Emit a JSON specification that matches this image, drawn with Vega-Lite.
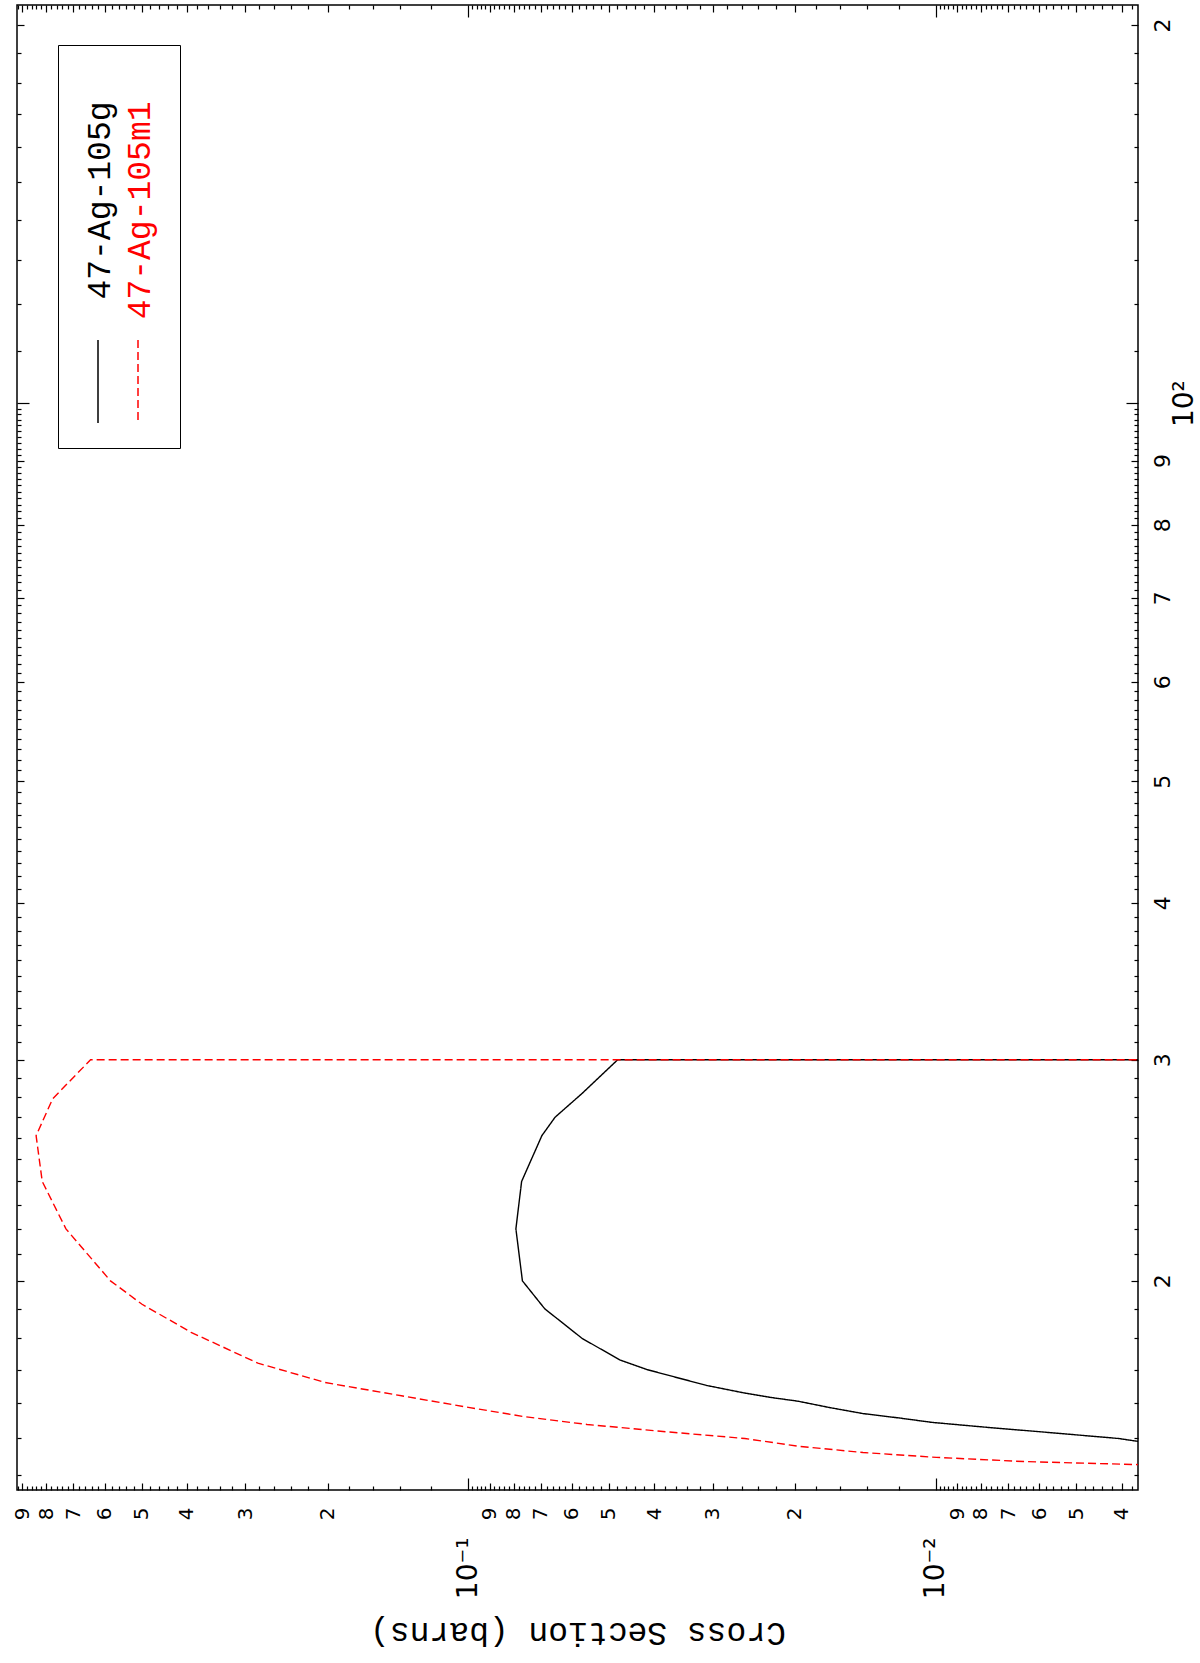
{
  "$schema": "https://vega.github.io/schema/vega-lite/v6.json",
  "autosize": {"type": "none"},
  "width": 1121,
  "height": 1485,
  "padding": {"left": 17, "top": 5, "right": 62, "bottom": 173},
  "background": "white",
  "config": {
    "view": {"stroke": "black", "strokeWidth": 1.5},
    "axis": {"grid": false, "domain": false, "tickColor": "black", "labelColor": "black", "tickWidth": 1.2}
  },
  "title": {
    "text": "Radionuclide Production Cross Section",
    "orient": "left",
    "anchor": "middle",
    "font": "Liberation Mono",
    "fontSize": 33,
    "fontWeight": "normal",
    "baseline": "alphabetic",
    "offset": 12,
    "color": "black"
  },
  "data": {
    "values": [
      {"series": "47-Ag-105g", "i": 0, "E": 14.73, "xs": 0.0030},
      {"series": "47-Ag-105g", "i": 1, "E": 14.98, "xs": 0.00406},
      {"series": "47-Ag-105g", "i": 2, "E": 15.15, "xs": 0.00578},
      {"series": "47-Ag-105g", "i": 3, "E": 15.29, "xs": 0.00777},
      {"series": "47-Ag-105g", "i": 4, "E": 15.43, "xs": 0.0102},
      {"series": "47-Ag-105g", "i": 5, "E": 15.55, "xs": 0.0119},
      {"series": "47-Ag-105g", "i": 6, "E": 15.68, "xs": 0.0143},
      {"series": "47-Ag-105g", "i": 7, "E": 15.85, "xs": 0.0168},
      {"series": "47-Ag-105g", "i": 8, "E": 16.04, "xs": 0.0197},
      {"series": "47-Ag-105g", "i": 9, "E": 16.15, "xs": 0.0225},
      {"series": "47-Ag-105g", "i": 10, "E": 16.29, "xs": 0.0258},
      {"series": "47-Ag-105g", "i": 11, "E": 16.51, "xs": 0.0309},
      {"series": "47-Ag-105g", "i": 12, "E": 16.77, "xs": 0.0362},
      {"series": "47-Ag-105g", "i": 13, "E": 17.0, "xs": 0.0415},
      {"series": "47-Ag-105g", "i": 14, "E": 17.3, "xs": 0.0474},
      {"series": "47-Ag-105g", "i": 15, "E": 18.0, "xs": 0.0571},
      {"series": "47-Ag-105g", "i": 16, "E": 19.0, "xs": 0.0686},
      {"series": "47-Ag-105g", "i": 17, "E": 20.0, "xs": 0.0766},
      {"series": "47-Ag-105g", "i": 18, "E": 22.0, "xs": 0.0791},
      {"series": "47-Ag-105g", "i": 19, "E": 24.0, "xs": 0.0769},
      {"series": "47-Ag-105g", "i": 20, "E": 26.1, "xs": 0.0696},
      {"series": "47-Ag-105g", "i": 21, "E": 27.0, "xs": 0.0652},
      {"series": "47-Ag-105g", "i": 22, "E": 28.2, "xs": 0.0571},
      {"series": "47-Ag-105g", "i": 23, "E": 30.0, "xs": 0.0479},
      {"series": "47-Ag-105g", "i": 24, "E": 30.0, "xs": 0.000001},
      {"series": "47-Ag-105m1", "i": 0, "E": 14.25, "xs": 0.0030},
      {"series": "47-Ag-105m1", "i": 1, "E": 14.36, "xs": 0.00648},
      {"series": "47-Ag-105m1", "i": 2, "E": 14.47, "xs": 0.00996},
      {"series": "47-Ag-105m1", "i": 3, "E": 14.6, "xs": 0.0143},
      {"series": "47-Ag-105m1", "i": 4, "E": 14.77, "xs": 0.0197},
      {"series": "47-Ag-105m1", "i": 5, "E": 14.98, "xs": 0.0256},
      {"series": "47-Ag-105m1", "i": 6, "E": 15.18, "xs": 0.0388},
      {"series": "47-Ag-105m1", "i": 7, "E": 15.37, "xs": 0.0557},
      {"series": "47-Ag-105m1", "i": 8, "E": 15.6, "xs": 0.0765},
      {"series": "47-Ag-105m1", "i": 9, "E": 15.86, "xs": 0.100},
      {"series": "47-Ag-105m1", "i": 10, "E": 16.2, "xs": 0.139},
      {"series": "47-Ag-105m1", "i": 11, "E": 16.6, "xs": 0.2025},
      {"series": "47-Ag-105m1", "i": 12, "E": 17.2, "xs": 0.282},
      {"series": "47-Ag-105m1", "i": 13, "E": 18.2, "xs": 0.392},
      {"series": "47-Ag-105m1", "i": 14, "E": 19.16, "xs": 0.499},
      {"series": "47-Ag-105m1", "i": 15, "E": 20.0, "xs": 0.583},
      {"series": "47-Ag-105m1", "i": 16, "E": 22.0, "xs": 0.726},
      {"series": "47-Ag-105m1", "i": 17, "E": 24.0, "xs": 0.816},
      {"series": "47-Ag-105m1", "i": 18, "E": 26.1, "xs": 0.841},
      {"series": "47-Ag-105m1", "i": 19, "E": 27.93, "xs": 0.775},
      {"series": "47-Ag-105m1", "i": 20, "E": 30.0, "xs": 0.643},
      {"series": "47-Ag-105m1", "i": 21, "E": 30.0, "xs": 0.000001}
    ]
  },
  "resolve": {"axis": {"x": "independent", "y": "independent"}},
  "layer": [
    {
      "mark": {"type": "line", "clip": true, "strokeWidth": 1.4},
      "encoding": {
        "x": {
          "field": "xs", "type": "quantitative",
          "scale": {"type": "log", "domain": [0.00369, 0.924], "reverse": true, "nice": false},
          "axis": {
            "orient": "bottom",
            "values": [0.004,0.005,0.006,0.007,0.008,0.009,0.02,0.03,0.04,0.05,0.06,0.07,0.08,0.09,0.2,0.3,0.4,0.5,0.6,0.7,0.8,0.9],
            "ticks": false, "domain": false, "grid": false,
            "labelExpr": "format(datum.value / pow(10, floor(log(datum.value) / LN10 + 1e-6)), '.0f')",
            "labelAngle": 270, "labelAlign": "right", "labelBaseline": "middle",
            "labelFont": "DejaVu Sans", "labelFontSize": 20, "labelPadding": 17,
            "labelOverlap": false, "labelFlush": false,
            "title": "Cross Section (barns)",
            "titleFont": "Liberation Mono", "titleFontSize": 33, "titleFontWeight": "normal",
            "titleAngle": 180, "titleBaseline": "bottom", "titlePadding": 96, "titleColor": "black"
          }
        },
        "y": {
          "field": "E", "type": "quantitative",
          "scale": {"type": "log", "domain": [13.63, 207.5], "nice": false},
          "axis": {
            "orient": "right",
            "values": [20,30,40,50,60,70,80,90,200],
            "ticks": false, "domain": false, "grid": false,
            "labelExpr": "format(datum.value / pow(10, floor(log(datum.value) / LN10 + 1e-6)), '.0f')",
            "labelAngle": 270, "labelAlign": "center", "labelBaseline": "top",
            "labelFont": "DejaVu Sans", "labelFontSize": 22, "labelPadding": 14,
            "labelOverlap": false, "labelFlush": false,
            "title": null
          }
        },
        "order": {"field": "i", "type": "quantitative"},
        "color": {
          "field": "series", "type": "nominal",
          "scale": {"domain": ["47-Ag-105g", "47-Ag-105m1"], "range": ["black", "red"]},
          "legend": {
            "orient": "none", "legendX": 41, "legendY": 40,
            "direction": "horizontal", "columns": 2, "title": null,
            "symbolType": "M0.15,25.65L0.15,33.95", "symbolSize": 400, "symbolStrokeWidth": 1.5,
            "symbolDash": {"expr": "datum.value == '47-Ag-105m1' ? [8, 4] : [1, 0]"},
            "labelFont": "Liberation Mono", "labelFontSize": 33, "labelLimit": 0,
            "labelColor": {"expr": "datum.value == '47-Ag-105m1' ? 'red' : 'black'"},
            "labelOffset": -13, "labelExpr": "datum.label + ' '",
            "columnPadding": 2, "padding": 22,
            "strokeColor": "black",
            "encode": {
              "labels": {
                "update": {
                  "angle": {"value": 270},
                  "align": {"value": "right"},
                  "dx": {"value": -18}
                }
              }
            }
          }
        },
        "strokeDash": {
          "field": "series", "type": "nominal",
          "scale": {"domain": ["47-Ag-105g", "47-Ag-105m1"], "range": [[1, 0], [8, 4]]},
          "legend": null
        }
      }
    },
    {
      "mark": {"type": "point", "opacity": 0, "clip": true},
      "encoding": {
        "x": {
          "field": "xs", "type": "quantitative",
          "scale": {"type": "log", "domain": [0.00369, 0.924], "reverse": true, "nice": false},
          "axis": {
            "orient": "bottom", "values": [0.01, 0.1], "ticks": false, "domain": false, "grid": false,
            "labelExpr": "datum.value < 0.05 ? '10⁻²' : '10⁻¹'",
            "labelAngle": 270, "labelAlign": "right", "labelBaseline": "middle",
            "labelFont": "DejaVu Sans", "labelFontSize": 28, "labelPadding": 47,
            "labelOverlap": false, "labelFlush": false, "title": null
          }
        },
        "y": {
          "field": "E", "type": "quantitative",
          "scale": {"type": "log", "domain": [13.63, 207.5], "nice": false},
          "axis": {
            "orient": "right", "values": [100], "ticks": false, "domain": false, "grid": false,
            "labelExpr": "'10²'",
            "labelAngle": 270, "labelAlign": "center", "labelBaseline": "top",
            "labelFont": "DejaVu Sans", "labelFontSize": 28, "labelPadding": 32,
            "labelOverlap": false, "labelFlush": false, "title": null
          }
        }
      }
    },
    {
      "mark": {"type": "point", "opacity": 0, "clip": true},
      "encoding": {
        "x": {
          "field": "xs", "type": "quantitative",
          "scale": {"type": "log", "domain": [0.00369, 0.924], "reverse": true, "nice": false},
          "axis": {"orient": "bottom", "values": [0.01, 0.1], "labels": false, "ticks": true, "tickSize": -12, "domain": false, "grid": false, "title": null}
        },
        "y": {
          "field": "E", "type": "quantitative",
          "scale": {"type": "log", "domain": [13.63, 207.5], "nice": false},
          "axis": {"orient": "right", "values": [100], "labels": false, "ticks": true, "tickSize": -12, "domain": false, "grid": false, "title": null}
        }
      }
    },
    {
      "mark": {"type": "point", "opacity": 0, "clip": true},
      "encoding": {
        "x": {
          "field": "xs", "type": "quantitative",
          "scale": {"type": "log", "domain": [0.00369, 0.924], "reverse": true, "nice": false},
          "axis": {"orient": "bottom", "values": [0.004,0.005,0.006,0.007,0.008,0.009,0.02,0.03,0.04,0.05,0.06,0.07,0.08,0.09,0.2,0.3,0.4,0.5,0.6,0.7,0.8,0.9], "labels": false, "ticks": true, "tickSize": -7, "domain": false, "grid": false, "title": null}
        },
        "y": {
          "field": "E", "type": "quantitative",
          "scale": {"type": "log", "domain": [13.63, 207.5], "nice": false},
          "axis": {"orient": "right", "values": [20,30,40,50,60,70,80,90,200], "labels": false, "ticks": true, "tickSize": -7, "domain": false, "grid": false, "title": null}
        }
      }
    },
    {
      "mark": {"type": "point", "opacity": 0, "clip": true},
      "encoding": {
        "x": {
          "field": "xs", "type": "quantitative",
          "scale": {"type": "log", "domain": [0.00369, 0.924], "reverse": true, "nice": false},
          "axis": {"orient": "bottom", "values": [0.0038,0.0042,0.0044,0.0046,0.0048,0.0052,0.0054,0.0056,0.0058,0.0062,0.0064,0.0066,0.0068,0.0072,0.0074,0.0076,0.0078,0.0082,0.0084,0.0086,0.0088,0.0092,0.0094,0.0096,0.0098,0.012,0.014,0.016,0.018,0.022,0.024,0.026,0.028,0.032,0.034,0.036,0.038,0.042,0.044,0.046,0.048,0.052,0.054,0.056,0.058,0.062,0.064,0.066,0.068,0.072,0.074,0.076,0.078,0.082,0.084,0.086,0.088,0.092,0.094,0.096,0.098,0.12,0.14,0.16,0.18,0.22,0.24,0.26,0.28,0.32,0.34,0.36,0.38,0.42,0.44,0.46,0.48,0.52,0.54,0.56,0.58,0.62,0.64,0.66,0.68,0.72,0.74,0.76,0.78,0.82,0.84,0.86,0.88,0.92], "labels": false, "ticks": true, "tickSize": -4, "domain": false, "grid": false, "title": null}
        },
        "y": {
          "field": "E", "type": "quantitative",
          "scale": {"type": "log", "domain": [13.63, 207.5], "nice": false},
          "axis": {"orient": "right", "values": [14,15,16,17,18,19,21,22,23,24,25,26,27,28,29,31,32,33,34,35,36,37,38,39,41,42,43,44,45,46,47,48,49,51,52,53,54,55,56,57,58,59,61,62,63,64,65,66,67,68,69,71,72,73,74,75,76,77,78,79,81,82,83,84,85,86,87,88,89,91,92,93,94,95,96,97,98,99,110,120,130,140,150,160,170,180,190], "labels": false, "ticks": true, "tickSize": -4, "domain": false, "grid": false, "title": null}
        }
      }
    },
    {
      "mark": {"type": "point", "opacity": 0, "clip": true},
      "encoding": {
        "x": {
          "field": "xs", "type": "quantitative",
          "scale": {"type": "log", "domain": [0.00369, 0.924], "reverse": true, "nice": false},
          "axis": {"orient": "top", "values": [0.01, 0.1], "labels": false, "ticks": true, "tickSize": -12, "domain": false, "grid": false, "title": null}
        },
        "y": {
          "field": "E", "type": "quantitative",
          "scale": {"type": "log", "domain": [13.63, 207.5], "nice": false},
          "axis": {"orient": "left", "values": [100], "labels": false, "ticks": true, "tickSize": -12, "domain": false, "grid": false, "title": null}
        }
      }
    },
    {
      "mark": {"type": "point", "opacity": 0, "clip": true},
      "encoding": {
        "x": {
          "field": "xs", "type": "quantitative",
          "scale": {"type": "log", "domain": [0.00369, 0.924], "reverse": true, "nice": false},
          "axis": {"orient": "top", "values": [0.004,0.005,0.006,0.007,0.008,0.009,0.02,0.03,0.04,0.05,0.06,0.07,0.08,0.09,0.2,0.3,0.4,0.5,0.6,0.7,0.8,0.9], "labels": false, "ticks": true, "tickSize": -7, "domain": false, "grid": false, "title": null}
        },
        "y": {
          "field": "E", "type": "quantitative",
          "scale": {"type": "log", "domain": [13.63, 207.5], "nice": false},
          "axis": {"orient": "left", "values": [20,30,40,50,60,70,80,90,200], "labels": false, "ticks": true, "tickSize": -7, "domain": false, "grid": false, "title": null}
        }
      }
    },
    {
      "mark": {"type": "point", "opacity": 0, "clip": true},
      "encoding": {
        "x": {
          "field": "xs", "type": "quantitative",
          "scale": {"type": "log", "domain": [0.00369, 0.924], "reverse": true, "nice": false},
          "axis": {"orient": "top", "values": [0.0038,0.0042,0.0044,0.0046,0.0048,0.0052,0.0054,0.0056,0.0058,0.0062,0.0064,0.0066,0.0068,0.0072,0.0074,0.0076,0.0078,0.0082,0.0084,0.0086,0.0088,0.0092,0.0094,0.0096,0.0098,0.012,0.014,0.016,0.018,0.022,0.024,0.026,0.028,0.032,0.034,0.036,0.038,0.042,0.044,0.046,0.048,0.052,0.054,0.056,0.058,0.062,0.064,0.066,0.068,0.072,0.074,0.076,0.078,0.082,0.084,0.086,0.088,0.092,0.094,0.096,0.098,0.12,0.14,0.16,0.18,0.22,0.24,0.26,0.28,0.32,0.34,0.36,0.38,0.42,0.44,0.46,0.48,0.52,0.54,0.56,0.58,0.62,0.64,0.66,0.68,0.72,0.74,0.76,0.78,0.82,0.84,0.86,0.88,0.92], "labels": false, "ticks": true, "tickSize": -4, "domain": false, "grid": false, "title": null}
        },
        "y": {
          "field": "E", "type": "quantitative",
          "scale": {"type": "log", "domain": [13.63, 207.5], "nice": false},
          "axis": {"orient": "left", "values": [14,15,16,17,18,19,21,22,23,24,25,26,27,28,29,31,32,33,34,35,36,37,38,39,41,42,43,44,45,46,47,48,49,51,52,53,54,55,56,57,58,59,61,62,63,64,65,66,67,68,69,71,72,73,74,75,76,77,78,79,81,82,83,84,85,86,87,88,89,91,92,93,94,95,96,97,98,99,110,120,130,140,150,160,170,180,190], "labels": false, "ticks": true, "tickSize": -4, "domain": false, "grid": false, "title": null}
        }
      }
    }
  ]
}
